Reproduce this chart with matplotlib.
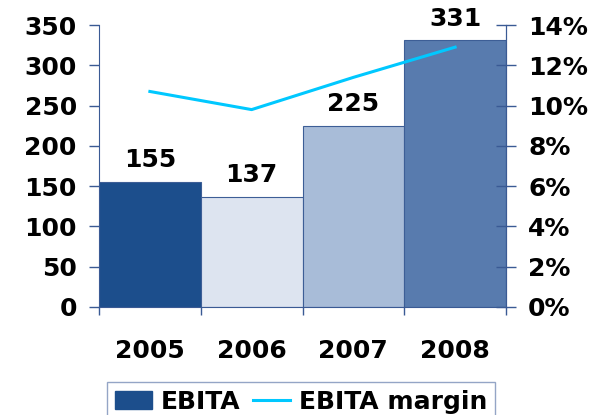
import numpy as np
import matplotlib
matplotlib.use("Agg")
import matplotlib.pyplot as plt
from matplotlib.patches import Patch
from matplotlib.lines import Line2D

years = ["2005", "2006", "2007", "2008"]
ebita = [155, 137, 225, 331]
margin = [10.7, 9.8, 11.4, 12.9]  # percent
bar_colors = ["#1C4E8C", "#DDE4F0", "#A8BCD8", "#587BAE"]
left_ticks = [0, 50, 100, 150, 200, 250, 300, 350]
right_ticks = [0, 2, 4, 6, 8, 10, 12, 14]

plt.rcParams['font.family'] = ['DejaVu Sans']
plt.rcParams['font.weight'] = 'bold'

spine_col = "#3A5A94"
fs = 18

fig = plt.figure(figsize=(6.03, 4.15), dpi=100)
ax = fig.add_axes([99/603, 1-307/415, (506-99)/603, (307-25)/415])

x = np.arange(len(years))
bars = ax.bar(x, ebita, width=1.0, color=bar_colors, edgecolor="#3D5E96", linewidth=0.8)
ax.bar_label(bars, labels=[str(v) for v in ebita], padding=7, fontsize=fs, fontweight='bold')

ax.set_xlim(-0.5, 3.5)
ax.set_ylim(0, 350)
ax.set_yticks(left_ticks)
ax.set_yticklabels([str(t) for t in left_ticks], fontsize=fs, fontweight='bold')
ax.tick_params(axis='y', direction='out', length=7, color=spine_col, width=1, pad=9)

# category separators on the x axis
ax.set_xticks(np.arange(-0.5, 4.0, 1.0), minor=False)
ax.set_xticklabels([])
ax.tick_params(axis='x', direction='out', length=6, color=spine_col, width=1)
ax.set_xticks(x, minor=True)
ax.set_xticklabels(years, minor=True, fontsize=fs, fontweight='bold')
ax.tick_params(axis='x', which='minor', length=0, pad=23)

ax.spines['top'].set_visible(False)
for s in ['left', 'bottom', 'right']:
    ax.spines[s].set_color(spine_col)

ax2 = ax.twinx()
ax2.plot(x, margin, color="#00C8FF", linewidth=2.2)
ax2.set_ylim(0, 14)
ax2.set_yticks(right_ticks)
ax2.set_yticklabels([f"{t}%" for t in right_ticks], fontsize=fs, fontweight='bold')
ax2.tick_params(axis='y', direction='inout', length=14, color=spine_col, width=1, pad=9)
ax2.spines['top'].set_visible(False)
ax2.spines['left'].set_visible(False)
ax2.spines['bottom'].set_visible(False)
ax2.spines['right'].set_color(spine_col)

handles = [Patch(facecolor=bar_colors[0], edgecolor=bar_colors[0]),
           Line2D([0], [0], color="#00C8FF", linewidth=2.2)]
leg = fig.legend(handles, ["EBITA", "EBITA margin"], loc='upper left',
                 bbox_to_anchor=(107/603, 1-382/415), ncol=2, frameon=True,
                 fancybox=False, borderaxespad=0, prop={'size': fs, 'weight': 'bold'},
                 handlelength=1.5, handletextpad=0.35, columnspacing=0.5,
                 borderpad=0.3)
leg.get_frame().set_edgecolor("#7A8FB8")
leg.get_frame().set_linewidth(1)

fig.savefig("out.png", dpi=100)
